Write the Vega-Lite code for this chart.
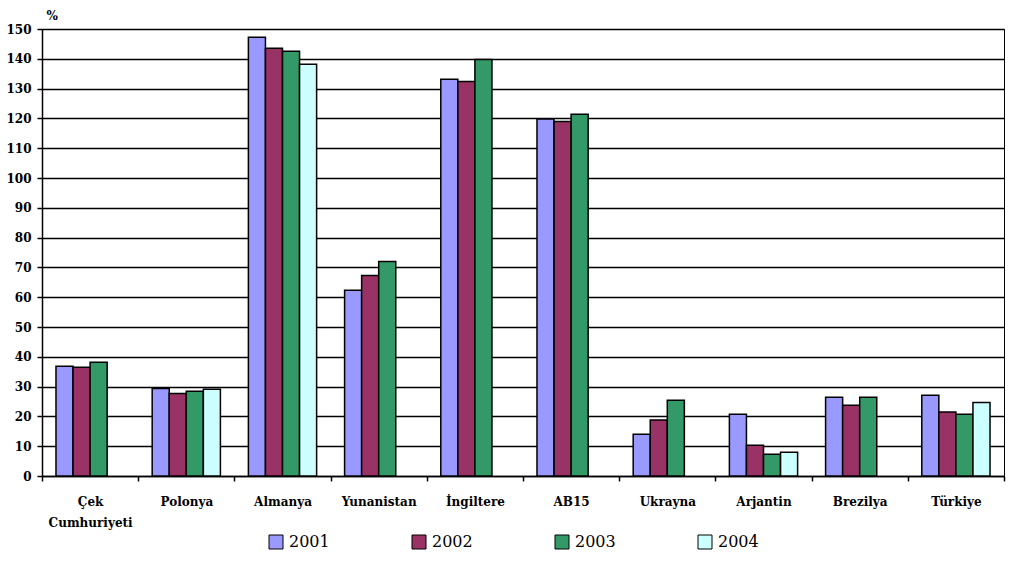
{
  "$schema": "https://vega.github.io/schema/vega-lite/v6.json",
  "width": 962,
  "height": 447,
  "autosize": {"type": "none"},
  "padding": {"left": 42, "top": 29, "right": 16, "bottom": 88},
  "background": "white",
  "config": {
    "view": {"stroke": "black", "strokeWidth": 1},
    "font": "DejaVu Serif"
  },
  "data": {
    "values": [
      {"ulke": "Çek Cumhuriyeti", "yil": "2001", "deger": 36.8},
      {"ulke": "Çek Cumhuriyeti", "yil": "2002", "deger": 36.5},
      {"ulke": "Çek Cumhuriyeti", "yil": "2003", "deger": 38.2},
      {"ulke": "Polonya", "yil": "2001", "deger": 29.4},
      {"ulke": "Polonya", "yil": "2002", "deger": 27.7},
      {"ulke": "Polonya", "yil": "2003", "deger": 28.4},
      {"ulke": "Polonya", "yil": "2004", "deger": 29.1},
      {"ulke": "Almanya", "yil": "2001", "deger": 147.2},
      {"ulke": "Almanya", "yil": "2002", "deger": 143.5},
      {"ulke": "Almanya", "yil": "2003", "deger": 142.5},
      {"ulke": "Almanya", "yil": "2004", "deger": 138.2},
      {"ulke": "Yunanistan", "yil": "2001", "deger": 62.3},
      {"ulke": "Yunanistan", "yil": "2002", "deger": 67.3},
      {"ulke": "Yunanistan", "yil": "2003", "deger": 72.0},
      {"ulke": "İngiltere", "yil": "2001", "deger": 133.1},
      {"ulke": "İngiltere", "yil": "2002", "deger": 132.4},
      {"ulke": "İngiltere", "yil": "2003", "deger": 139.8},
      {"ulke": "AB15", "yil": "2001", "deger": 119.8},
      {"ulke": "AB15", "yil": "2002", "deger": 119.0},
      {"ulke": "AB15", "yil": "2003", "deger": 121.4},
      {"ulke": "Ukrayna", "yil": "2001", "deger": 14.0},
      {"ulke": "Ukrayna", "yil": "2002", "deger": 18.8},
      {"ulke": "Ukrayna", "yil": "2003", "deger": 25.4},
      {"ulke": "Arjantin", "yil": "2001", "deger": 20.7},
      {"ulke": "Arjantin", "yil": "2002", "deger": 10.3},
      {"ulke": "Arjantin", "yil": "2003", "deger": 7.3},
      {"ulke": "Arjantin", "yil": "2004", "deger": 8.0},
      {"ulke": "Brezilya", "yil": "2001", "deger": 26.4},
      {"ulke": "Brezilya", "yil": "2002", "deger": 23.7},
      {"ulke": "Brezilya", "yil": "2003", "deger": 26.4},
      {"ulke": "Türkiye", "yil": "2001", "deger": 27.1},
      {"ulke": "Türkiye", "yil": "2002", "deger": 21.5},
      {"ulke": "Türkiye", "yil": "2003", "deger": 20.7},
      {"ulke": "Türkiye", "yil": "2004", "deger": 24.7}
    ]
  },
  "mark": {"type": "bar", "stroke": "black", "strokeWidth": 1.5},
  "encoding": {
    "x": {
      "field": "ulke",
      "type": "nominal",
      "sort": ["Çek Cumhuriyeti", "Polonya", "Almanya", "Yunanistan", "İngiltere", "AB15", "Ukrayna", "Arjantin", "Brezilya", "Türkiye"],
      "scale": {"paddingInner": 0, "paddingOuter": 0},
      "axis": {
        "title": null,
        "labelAngle": 0,
        "labelFont": "DejaVu Serif",
        "labelFontWeight": "bold",
        "labelFontSize": 12,
        "labelColor": "black",
        "labelPadding": 15,
        "labelLineHeight": 21,
        "labelBaseline": "top",
        "labelExpr": "datum.label == 'Çek Cumhuriyeti' ? ['Çek', 'Cumhuriyeti'] : datum.label",
        "tickBand": "extent",
        "tickSize": 5,
        "tickColor": "black",
        "tickWidth": 1.5,
        "domainColor": "black",
        "domainWidth": 1.5,
        "grid": false
      }
    },
    "xOffset": {
      "field": "yil",
      "type": "nominal",
      "scale": {"domain": ["2001", "2002", "2003", "2004"], "paddingInner": 0, "paddingOuter": 0.82}
    },
    "y": {
      "field": "deger",
      "type": "quantitative",
      "scale": {"domain": [0, 150], "nice": false},
      "axis": {
        "title": "%",
        "titleAngle": 0,
        "titleFont": "DejaVu Serif",
        "titleFontWeight": "bold",
        "titleFontSize": 12,
        "titleAlign": "left",
        "titleBaseline": "bottom",
        "titleX": 4,
        "titleY": -7,
        "values": [0, 10, 20, 30, 40, 50, 60, 70, 80, 90, 100, 110, 120, 130, 140, 150],
        "labelFont": "DejaVu Serif",
        "labelFontWeight": "bold",
        "labelFontSize": 12,
        "labelColor": "black",
        "labelPadding": 6,
        "tickSize": 5,
        "tickColor": "black",
        "tickWidth": 1.5,
        "domainColor": "black",
        "domainWidth": 1.5,
        "grid": true,
        "gridColor": "black",
        "gridWidth": 1.5,
        "gridOpacity": 1
      }
    },
    "color": {
      "field": "yil",
      "type": "nominal",
      "scale": {"domain": ["2001", "2002", "2003", "2004"], "range": ["#9999FF", "#993366", "#339966", "#CCFFFF"]},
      "legend": {
        "title": null,
        "orient": "none",
        "legendX": 226,
        "legendY": 505,
        "direction": "horizontal",
        "columns": 4,
        "columnPadding": 80,
        "padding": 0,
        "symbolType": "square",
        "symbolSize": 196,
        "symbolStrokeColor": "black",
        "symbolStrokeWidth": 1,
        "symbolOpacity": 1,
        "labelFont": "DejaVu Serif",
        "labelFontSize": 16,
        "labelColor": "black",
        "labelOffset": 5
      }
    }
  }
}
